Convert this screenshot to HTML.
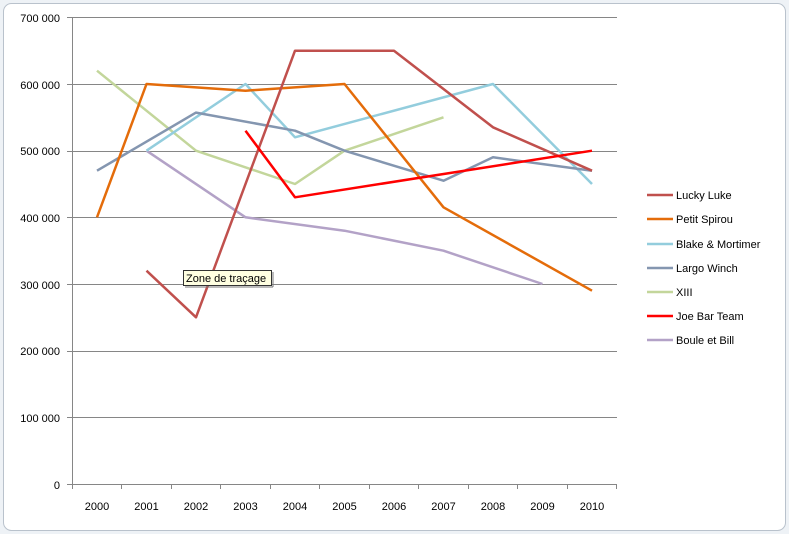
<!DOCTYPE html>
<html><head><meta charset="utf-8"><style>
body{margin:0;background:#fff;width:789px;height:534px;overflow:hidden}
svg{display:block;font-family:"Liberation Sans",sans-serif}
</style></head><body>
<svg width="789" height="534" viewBox="0 0 789 534">
<rect x="0" y="0" width="789" height="534" fill="#eef2f6"/>
<rect x="3.5" y="3.5" width="782" height="527" rx="8" fill="#fff" stroke="#b9c2cc"/>
<g stroke="#868686" stroke-width="1">
<line x1="67" x2="617" y1="17.5" y2="17.5"/>
<line x1="67" x2="617" y1="84.5" y2="84.5"/>
<line x1="67" x2="617" y1="151.5" y2="151.5"/>
<line x1="67" x2="617" y1="217.5" y2="217.5"/>
<line x1="67" x2="617" y1="284.5" y2="284.5"/>
<line x1="67" x2="617" y1="351.5" y2="351.5"/>
<line x1="67" x2="617" y1="417.5" y2="417.5"/>
<line x1="67" x2="617" y1="484.5" y2="484.5"/>
<line x1="72.5" x2="72.5" y1="17" y2="489"/>
<line x1="121.5" x2="121.5" y1="484" y2="489"/><line x1="171.5" x2="171.5" y1="484" y2="489"/>
<line x1="220.5" x2="220.5" y1="484" y2="489"/><line x1="270.5" x2="270.5" y1="484" y2="489"/>
<line x1="319.5" x2="319.5" y1="484" y2="489"/><line x1="369.5" x2="369.5" y1="484" y2="489"/>
<line x1="418.5" x2="418.5" y1="484" y2="489"/><line x1="468.5" x2="468.5" y1="484" y2="489"/>
<line x1="517.5" x2="517.5" y1="484" y2="489"/><line x1="567.5" x2="567.5" y1="484" y2="489"/>
<line x1="616.5" x2="616.5" y1="484" y2="489"/>
</g>
<g font-size="11" fill="#000" text-anchor="end">
<text x="60" y="22">700 000</text><text x="60" y="89">600 000</text><text x="60" y="155">500 000</text>
<text x="60" y="222">400 000</text><text x="60" y="289">300 000</text><text x="60" y="355">200 000</text>
<text x="60" y="422">100 000</text><text x="60" y="489">0</text>
</g>
<g font-size="11" fill="#000" text-anchor="middle">
<text x="97" y="510">2000</text><text x="146.5" y="510">2001</text><text x="196" y="510">2002</text>
<text x="245.5" y="510">2003</text><text x="295" y="510">2004</text><text x="344.5" y="510">2005</text>
<text x="394" y="510">2006</text><text x="443.5" y="510">2007</text><text x="493" y="510">2008</text>
<text x="542.5" y="510">2009</text><text x="592" y="510">2010</text>
</g>
<g fill="none" stroke-width="2.5" stroke-linejoin="round">
<polyline stroke="#c3d69b" points="97,70.7 196,150.7 295,184 344.5,150.7 443.5,117.3"/>
<polyline stroke="#b3a2c7" points="146.5,150.7 245.5,217.3 344.5,230.7 443.5,250.7 542.5,284"/>
<polyline stroke="#93cddd" points="146.5,150.7 245.5,84 295,137.3 493,84 592,184"/>
<polyline stroke="#8496b0" points="97,170.7 196,112.6 295,130.7 344.5,150.7 443.5,180.7 493,157.3 592,170.7"/>
<polyline stroke="#e46c0a" points="97,217.3 146.5,84 245.5,90.7 344.5,84 443.5,207.3 592,290.7"/>
<polyline stroke="#c0504d" points="146.5,270.7 196,317.3 295,50.7 394,50.7 493,127.3 592,170.7"/>
<polyline stroke="#ff0000" points="245.5,130.7 295,197.3 592,150.7"/>
</g>
<rect x="183.5" y="270.5" width="88" height="15" fill="#ffffe1" stroke="#333"/>
<line x1="273" y1="272" x2="273" y2="287" stroke="#777"/>
<line x1="185" y1="287" x2="273" y2="287" stroke="#777"/>
<text x="186" y="282" font-size="11">Zone de traçage</text>
<g stroke-width="2.5">
<line x1="647" x2="673" y1="195" y2="195" stroke="#c0504d"/>
<line x1="647" x2="673" y1="219" y2="219" stroke="#e46c0a"/>
<line x1="647" x2="673" y1="244" y2="244" stroke="#93cddd"/>
<line x1="647" x2="673" y1="268" y2="268" stroke="#8496b0"/>
<line x1="647" x2="673" y1="292" y2="292" stroke="#c3d69b"/>
<line x1="647" x2="673" y1="316" y2="316" stroke="#ff0000"/>
<line x1="647" x2="673" y1="340" y2="340" stroke="#b3a2c7"/>
</g>
<g font-size="11">
<text x="676" y="199">Lucky Luke</text><text x="676" y="223">Petit Spirou</text>
<text x="676" y="248">Blake &amp;  Mortimer</text><text x="676" y="272">Largo Winch</text>
<text x="676" y="296">XIII</text><text x="676" y="320">Joe Bar Team</text><text x="676" y="344">Boule et Bill</text>
</g>
</svg>
</body></html>
